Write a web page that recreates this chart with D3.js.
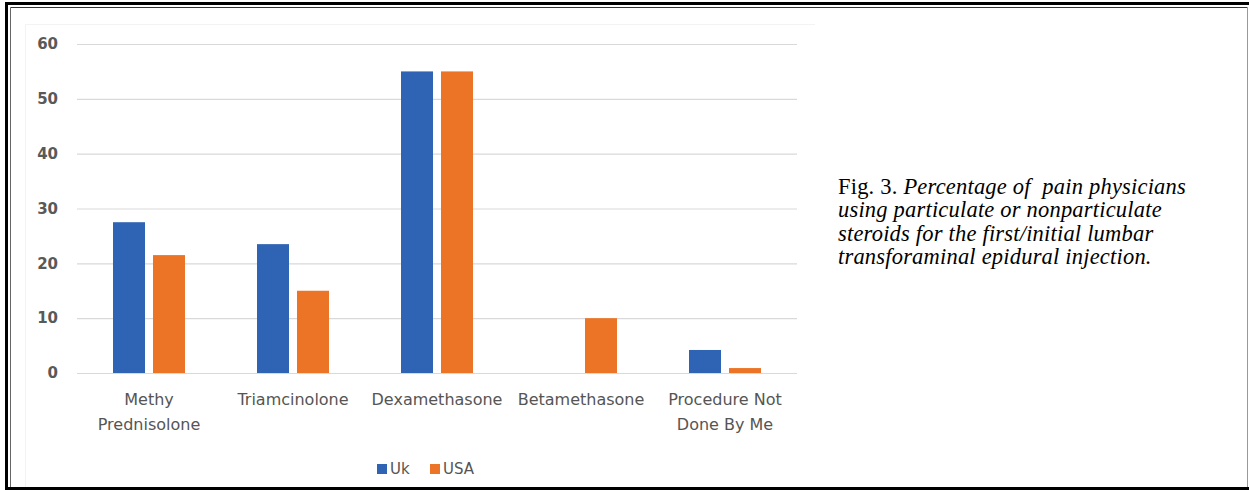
<!DOCTYPE html>
<html>
<head>
<meta charset="utf-8">
<script src="https://cdn.jsdelivr.net/npm/d3@7"></script>
<style>
  body { margin: 0; background: #fff; }
  svg { display: block; }
</style>
</head>
<body>
<div id="chart"></div>
<script>
// Chart data
const categories = ["Methy\nPrednisolone", "Triamcinolone", "Dexamethasone", "Betamethasone", "Procedure Not\nDone By Me"];
const seriesNames = ["Uk", "USA"];
const ukValues = [27.5, 23.5, 55, 0, 4.2];
const usaValues = [21.5, 15, 55, 10, 0.9];
const yTicks = [0, 10, 20, 30, 40, 50, 60];
const captionLines = [
  [["Fig. 3. ", false], ["Percentage of  pain physicians", true]],
  [["using particulate or nonparticulate", true]],
  [["steroids for the first/initial lumbar", true]],
  [["transforaminal epidural injection.", true]]
];

const colors = { "Uk": "#2f63b3", "USA": "#ec7426" };

const width = 1249, height = 490;
const svg = d3.select("#chart").append("svg")
  .attr("width", width)
  .attr("height", height);

// Page frame (double rule)
const frame = svg.append("g").attr("class", "frame");
frame.append("rect").attr("x", 5).attr("y", 2).attr("width", width - 5).attr("height", 3).attr("fill", "#000");
frame.append("rect").attr("x", 5).attr("y", 2).attr("width", 3).attr("height", height - 2).attr("fill", "#000");
frame.append("rect").attr("x", 5).attr("y", 487).attr("width", width - 5).attr("height", 3).attr("fill", "#000");
frame.append("line").attr("x1", 10.5).attr("y1", 7.5).attr("x2", 1247.5).attr("y2", 7.5).attr("stroke", "#333");
frame.append("line").attr("x1", 10.5).attr("y1", 7.5).attr("x2", 10.5).attr("y2", 487).attr("stroke", "#666");
frame.append("line").attr("x1", 1247.5).attr("y1", 7.5).attr("x2", 1247.5).attr("y2", 487).attr("stroke", "#999");

// Faint chart box edges (left and top only are visible in the scan)
svg.append("path")
  .attr("d", "M25.5,487V24.5H815")
  .attr("fill", "none")
  .attr("stroke", "#f3f3f3");

// Scales
const plot = { left: 77, right: 797, top: 44, bottom: 373 };
const y = d3.scaleLinear().domain([0, 60]).range([plot.bottom, plot.top]);
const x0 = d3.scaleBand().domain(categories).range([plot.left, plot.right])
  .paddingInner(0.5).paddingOuter(0.25);
const x1 = d3.scaleBand().domain(seriesNames).range([0, x0.bandwidth()]).paddingInner(0.2);

const labelFont = "'DejaVu Sans', sans-serif";

// Gridlines + y labels
const yAxis = svg.append("g")
  .attr("transform", `translate(${plot.left},0)`)
  .call(d3.axisLeft(y).tickValues(yTicks).tickSize(-(plot.right - plot.left)).tickPadding(19));
yAxis.select(".domain").remove();
yAxis.selectAll(".tick line").attr("stroke", "#d9d9d9").attr("stroke-width", 1.2);
yAxis.selectAll(".tick text")
  .attr("fill", "#595959")
  .style("font-family", labelFont)
  .style("font-size", "15px")
  .style("font-weight", "bold");

// Bars
const rows = categories.map((c, i) => ({ category: c, values: [
  { key: "Uk", value: ukValues[i] },
  { key: "USA", value: usaValues[i] }
]}));

const groups = svg.append("g").selectAll("g")
  .data(rows)
  .enter().append("g")
  .attr("transform", d => `translate(${x0(d.category)},0)`);

groups.selectAll("rect")
  .data(d => d.values.filter(v => v.value > 0))
  .enter().append("rect")
  .attr("x", d => x1(d.key))
  .attr("y", d => y(d.value))
  .attr("width", x1.bandwidth())
  .attr("height", d => y(0) - y(d.value))
  .attr("fill", d => colors[d.key]);

// Category labels
const xLabels = svg.append("g").selectAll("text")
  .data(categories)
  .enter().append("text")
  .attr("text-anchor", "middle")
  .attr("fill", "#555")
  .style("font-family", labelFont)
  .style("font-size", "16px");

xLabels.each(function(d) {
  const t = d3.select(this);
  d.split("\n").forEach((line, i) => {
    t.append("tspan")
      .attr("x", x0(d) + x0.bandwidth() / 2)
      .attr("y", 405 + i * 25)
      .text(line);
  });
});

// Legend
const legend = svg.append("g").attr("transform", "translate(377,464)");
const legendX = { "Uk": 0, "USA": 53 };
const items = legend.selectAll("g")
  .data(seriesNames)
  .enter().append("g")
  .attr("transform", d => `translate(${legendX[d]},0)`);
items.append("rect")
  .attr("width", 10).attr("height", 10)
  .attr("fill", d => colors[d]);
items.append("text")
  .attr("x", 13).attr("y", 10)
  .attr("fill", "#555")
  .style("font-family", labelFont)
  .style("font-size", "15px")
  .text(d => d);

// Caption
const caption = svg.append("text")
  .attr("fill", "#000")
  .style("font-family", "'Liberation Serif', serif")
  .style("font-size", "22.5px")
  .style("letter-spacing", "0.2px")
  .style("white-space", "pre");

captionLines.forEach((parts, i) => {
  parts.forEach((p, j) => {
    const ts = caption.append("tspan")
      .style("font-style", p[1] ? "italic" : "normal")
      .text(p[0]);
    if (j === 0) ts.attr("x", 838).attr("y", 194 + i * 23.3);
  });
});
</script>
</body>
</html>
